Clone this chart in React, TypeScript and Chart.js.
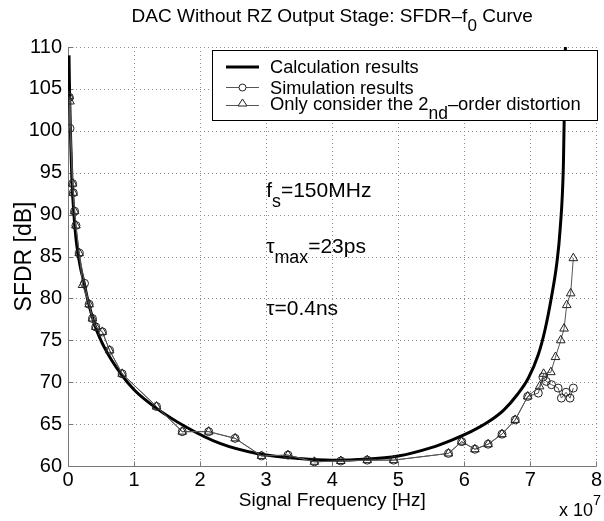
import React, { useEffect, useRef } from "react";
import { Chart, registerables } from "chart.js";
Chart.register(...registerables);

const FONT = '"Liberation Sans", Arial, Helvetica, sans-serif';

// Frequencies are in units of 1e7 Hz (axis shows "x 10^7")
const calcFreq = [0.015, 0.025, 0.04, 0.06, 0.09, 0.13, 0.19, 0.24, 0.3, 0.42, 0.56, 0.79, 1.0, 1.32, 1.8, 2.3, 2.86, 3.5, 4.0, 4.5, 5.0, 5.5, 5.81, 6.1, 6.37, 6.6, 6.8, 6.97, 7.12, 7.22, 7.32, 7.4, 7.45, 7.5, 7.53];
const calcSfdr = [109, 104, 99, 94, 90, 86.5, 83.6, 82.0, 79.8, 76.5, 74.0, 71.1, 69.1, 67.0, 64.6, 62.7, 61.5, 60.9, 60.7, 60.8, 61.2, 62.2, 63.1, 64.1, 65.3, 66.7, 68.5, 70.5, 73.3, 76.2, 80.2, 84.2, 88.2, 96, 110];

const simFreq = [0.02, 0.03, 0.07, 0.08, 0.1, 0.12, 0.17, 0.25, 0.32, 0.37, 0.42, 0.52, 0.63, 0.82, 1.34, 1.73, 2.13, 2.53, 2.93, 3.33, 3.73, 4.13, 4.53, 4.93, 5.76, 5.96, 6.16, 6.36, 6.57, 6.77, 6.96, 7.12, 7.19, 7.24, 7.32, 7.42, 7.47, 7.54, 7.6, 7.65];
const simSfdr = [104.0, 100.3, 93.7, 92.6, 90.4, 88.7, 85.4, 81.8, 79.3, 77.6, 76.6, 76.0, 73.8, 71.0, 67.1, 64.1, 64.1, 63.3, 61.2, 61.3, 60.5, 60.6, 60.7, 60.7, 61.5, 62.9, 62.0, 62.6, 63.8, 65.5, 68.3, 68.7, 70.6, 70.1, 69.7, 69.3, 68.1, 68.8, 68.1, 69.3];

const hd2Freq = [0.02, 0.03, 0.07, 0.08, 0.1, 0.12, 0.17, 0.22, 0.32, 0.37, 0.42, 0.52, 0.63, 0.82, 1.34, 1.73, 2.13, 2.53, 2.93, 3.33, 3.73, 4.13, 4.53, 4.93, 5.76, 5.96, 6.16, 6.36, 6.57, 6.77, 6.96, 7.14, 7.2, 7.31, 7.38, 7.46, 7.51, 7.55, 7.61, 7.65];
const hd2Sfdr = [104.1, 103.5, 93.7, 92.6, 90.4, 88.7, 85.4, 81.6, 79.3, 77.6, 76.6, 76.0, 73.8, 71.0, 67.1, 64.1, 64.1, 63.3, 61.2, 61.3, 60.5, 60.6, 60.7, 60.7, 61.5, 62.9, 62.0, 62.6, 63.8, 65.5, 68.3, 69.5, 71.0, 71.2, 73.0, 75.0, 76.4, 79.2, 80.6, 84.8];

const xTickValues = [0, 1, 2, 3, 4, 5, 6, 7, 8];
const yTickValues = [60, 65, 70, 75, 80, 85, 90, 95, 100, 105, 110];

const seriesNames = ["Calculation results", "Simulation results", "Only consider the 2nd\u2013order distortion"];

type Part = { t: string; sub?: boolean; sup?: boolean };

function drawRich(
  ctx: CanvasRenderingContext2D,
  parts: Part[],
  x: number,
  y: number,
  align: "left" | "center" | "right",
  size = 18,
  subRatio = 0.9,
) {
  const small = size * subRatio;
  const fontFor = (p: Part) => `${p.sub || p.sup ? small : size}px ${FONT}`;
  let total = 0;
  for (const p of parts) {
    ctx.font = fontFor(p);
    total += ctx.measureText(p.t).width;
  }
  let cx = align === "left" ? x : align === "center" ? x - total / 2 : x - total;
  ctx.textAlign = "left";
  ctx.textBaseline = "alphabetic";
  ctx.fillStyle = "#000";
  for (const p of parts) {
    ctx.font = fontFor(p);
    const dy = p.sub ? size * 0.48 : p.sup ? -size * 0.6 : 0;
    ctx.fillText(p.t, cx, y + dy);
    cx += ctx.measureText(p.t).width;
  }
}

const gridPlugin = {
  id: "matlabGrid",
  beforeDatasetsDraw(chart: any) {
    const ctx: CanvasRenderingContext2D = chart.ctx;
    const { left, right, top, bottom } = chart.chartArea;
    const xs = chart.scales.x;
    const ys = chart.scales.y;
    ctx.save();
    ctx.strokeStyle = "#8a8a8a";
    ctx.lineWidth = 1;
    ctx.setLineDash([1, 3]);
    for (const v of xTickValues) {
      if (v === 0) continue;
      const px = Math.round(xs.getPixelForValue(v)) + 0.5;
      ctx.beginPath();
      ctx.moveTo(px, top);
      ctx.lineTo(px, bottom);
      ctx.stroke();
    }
    for (const v of yTickValues) {
      if (v === 60) continue;
      const py = Math.round(ys.getPixelForValue(v)) + 0.5;
      ctx.beginPath();
      ctx.moveTo(left, py);
      ctx.lineTo(right, py);
      ctx.stroke();
    }
    ctx.setLineDash([]);
    ctx.strokeStyle = "#777";
    const lx = Math.round(left) + 0.5;
    const by = Math.round(bottom) + 0.5;
    ctx.beginPath();
    ctx.moveTo(lx, top);
    ctx.lineTo(lx, by);
    ctx.lineTo(right, by);
    ctx.stroke();
    for (const v of xTickValues) {
      const px = Math.round(xs.getPixelForValue(v)) + 0.5;
      ctx.beginPath();
      ctx.moveTo(px, by);
      ctx.lineTo(px, by - 5);
      ctx.stroke();
    }
    for (const v of yTickValues) {
      const py = Math.round(ys.getPixelForValue(v)) + 0.5;
      ctx.beginPath();
      ctx.moveTo(lx, py);
      ctx.lineTo(lx + 5, py);
      ctx.stroke();
    }
    ctx.restore();
  },
};

const textPlugin = {
  id: "matlabText",
  afterDraw(chart: any) {
    const ctx: CanvasRenderingContext2D = chart.ctx;
    const xs = chart.scales.x;
    const ys = chart.scales.y;
    const { left, right, top, bottom } = chart.chartArea;
    ctx.save();
    // title
    drawRich(ctx, [{ t: "DAC Without RZ Output Stage: SFDR\u2013f" }, { t: "0", sub: true }, { t: " Curve" }], (left + right) / 2, 22, "center", 19);
    // x label
    drawRich(ctx, [{ t: "Signal Frequency [Hz]" }], (left + right) / 2, 506, "center", 19);
    // exponent
    drawRich(ctx, [{ t: "x 10" }, { t: "7", sup: true }], 601, 516, "right", 18, 0.8);
    // y label
    ctx.save();
    ctx.translate(31, (top + bottom) / 2);
    ctx.rotate(-Math.PI / 2);
    drawRich(ctx, [{ t: "SFDR [dB]" }], 0, 0, "center", 23);
    ctx.restore();
    // annotations
    const ax = xs.getPixelForValue(3.0);
    drawRich(ctx, [{ t: "f" }, { t: "s", sub: true }, { t: "=150MHz" }], ax, ys.getPixelForValue(92.1), "left", 21, 0.85);
    drawRich(ctx, [{ t: "\u03c4" }, { t: "max", sub: true }, { t: "=23ps" }], ax, ys.getPixelForValue(85.4), "left", 21, 0.85);
    drawRich(ctx, [{ t: "\u03c4=0.4ns" }], ax, ys.getPixelForValue(78.0), "left", 21);
    // legend
    const bx = 212.5, byTop = 50.5, bw = 385, bh = 70;
    ctx.fillStyle = "#fff";
    ctx.fillRect(bx, byTop, bw, bh);
    ctx.strokeStyle = "#000";
    ctx.lineWidth = 1;
    ctx.strokeRect(bx, byTop, bw, bh);
    const rows = [73, 94, 110];
    const sx0 = 226, sx1 = 259, tx = 270;
    // row 1
    ctx.strokeStyle = "#000";
    ctx.lineWidth = 3;
    ctx.beginPath();
    ctx.moveTo(sx0, rows[0] - 6);
    ctx.lineTo(sx1, rows[0] - 6);
    ctx.stroke();
    drawRich(ctx, [{ t: seriesNames[0] }], tx, rows[0], "left", 18.2);
    // row 2
    ctx.strokeStyle = "#555";
    ctx.lineWidth = 1;
    ctx.beginPath();
    ctx.moveTo(sx0, rows[1] - 6.5);
    ctx.lineTo(sx1, rows[1] - 6.5);
    ctx.stroke();
    ctx.fillStyle = "#fff";
    ctx.strokeStyle = "#222";
    ctx.beginPath();
    ctx.arc((sx0 + sx1) / 2, rows[1] - 6.5, 3.5, 0, Math.PI * 2);
    ctx.fill();
    ctx.stroke();
    drawRich(ctx, [{ t: seriesNames[1] }], tx, rows[1], "left", 18.2);
    // row 3
    ctx.strokeStyle = "#555";
    ctx.beginPath();
    ctx.moveTo(sx0, rows[2] - 4.5);
    ctx.lineTo(sx1, rows[2] - 4.5);
    ctx.stroke();
    const cxT = (sx0 + sx1) / 2, cyT = rows[2] - 6.5;
    ctx.strokeStyle = "#222";
    ctx.fillStyle = "#fff";
    ctx.beginPath();
    ctx.moveTo(cxT, cyT - 4.5);
    ctx.lineTo(cxT + 4.5, cyT + 2.5);
    ctx.lineTo(cxT - 4.5, cyT + 2.5);
    ctx.closePath();
    ctx.fill();
    ctx.stroke();
    drawRich(ctx, [{ t: "Only consider the 2" }, { t: "nd", sub: true }, { t: "\u2013order distortion" }], tx, rows[2], "left", 18.4, 0.95);
    ctx.restore();
  },
};

export default function App() {
  const ref = useRef<HTMLCanvasElement | null>(null);
  useEffect(() => {
    document.body.style.margin = "0";
    const canvas = ref.current!;
    const toPts = (xs: number[], ys: number[]) => xs.map((x, i) => ({ x, y: ys[i] }));
    const chart = new Chart(canvas, {
      type: "scatter",
      data: {
        datasets: [
          {
            label: seriesNames[0],
            data: toPts(calcFreq, calcSfdr),
            showLine: true,
            borderColor: "#000",
            borderWidth: 3,
            pointRadius: 0,
            cubicInterpolationMode: "monotone",
            order: 3,
          },
          {
            label: seriesNames[1],
            data: toPts(simFreq, simSfdr),
            showLine: true,
            borderColor: "#555",
            borderWidth: 1,
            pointStyle: "circle",
            pointRadius: 4,
            pointBorderWidth: 1,
            pointBorderColor: "#222",
            pointBackgroundColor: "rgba(255,255,255,0)",
            order: 2,
          },
          {
            label: seriesNames[2],
            data: toPts(hd2Freq, hd2Sfdr),
            showLine: true,
            borderColor: "#555",
            borderWidth: 1,
            pointStyle: "triangle",
            pointRadius: 5,
            pointBorderWidth: 1,
            pointBorderColor: "#222",
            pointBackgroundColor: "rgba(255,255,255,0)",
            order: 1,
          },
        ],
      },
      options: {
        animation: false,
        responsive: false,
        devicePixelRatio: 1,
        layout: { padding: { top: 47, right: 6, left: 0, bottom: 0 } },
        plugins: { legend: { display: false }, tooltip: { enabled: false }, title: { display: false } },
        scales: {
          x: {
            type: "linear",
            min: 0,
            max: 8,
            afterBuildTicks: (s: any) => { s.ticks = xTickValues.map((v) => ({ value: v })); },
            ticks: { color: "#000", font: { family: FONT, size: 20 }, padding: 2, maxRotation: 0, autoSkip: false },
            grid: { display: false, drawTicks: false },
            border: { display: false },
            afterFit: (s: any) => { s.height = 55; },
          },
          y: {
            type: "linear",
            min: 60,
            max: 110,
            afterBuildTicks: (s: any) => { s.ticks = yTickValues.map((v) => ({ value: v })); },
            ticks: { color: "#000", font: { family: FONT, size: 20 }, padding: 6, autoSkip: false },
            grid: { display: false, drawTicks: false },
            border: { display: false },
            afterFit: (s: any) => { s.width = 68; },
          },
        },
      } as any,
      plugins: [gridPlugin, textPlugin],
    });
    return () => chart.destroy();
  }, []);
  return <canvas ref={ref} width={604} height={521} style={{ display: "block", width: 604, height: 521 }} />;
}
